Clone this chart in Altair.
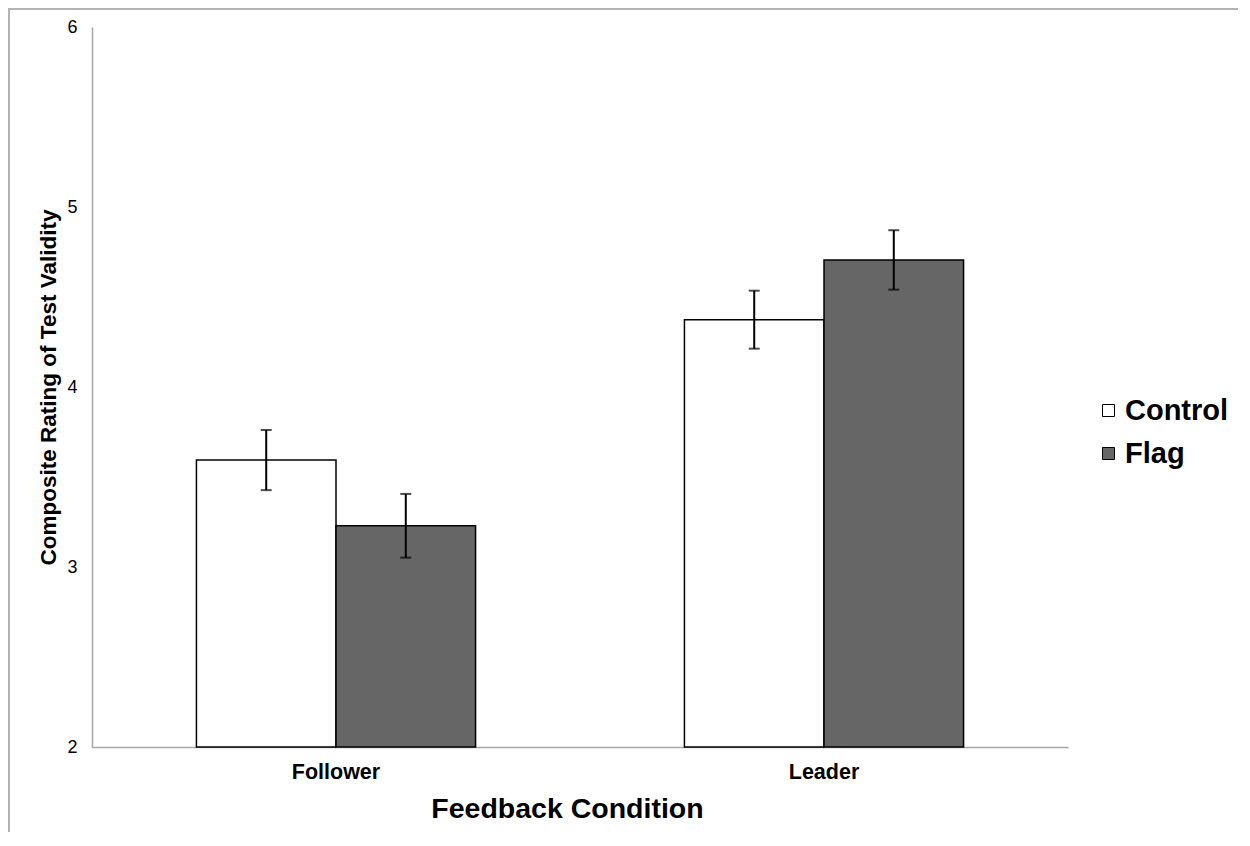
import altair as alt
import pandas as pd

groups = ["Follower", "Follower", "Leader", "Leader"]
conditions = ["Control", "Flag", "Control", "Flag"]
means = [3.594, 3.229, 4.374, 4.706]
errors = [0.167, 0.177, 0.161, 0.165]

df = pd.DataFrame({"group": groups, "condition": conditions, "mean": means, "err": errors})
df["lo"] = df["mean"] - df["err"]
df["hi"] = df["mean"] + df["err"]

FONT = "Liberation Sans"

x = alt.X("group:N", title="Feedback Condition",
          scale=alt.Scale(paddingInner=0.428, paddingOuter=0.214),
          axis=alt.Axis(labelAngle=0, ticks=False, labelFontSize=21.5, labelFontWeight="bold",
                        labelPadding=14, titleFontSize=28.5, titleFontWeight="bold",
                        titlePadding=12, titleX=475, domainColor="#a6a6a6", domainWidth=1.5,
                        labelColor="black", titleColor="black"))
xo = alt.XOffset("condition:N", scale=alt.Scale(paddingInner=0, paddingOuter=0))
yscale = alt.Scale(domain=[2, 6], zero=False, nice=False)

bars = alt.Chart(df).mark_bar(stroke="black", strokeWidth=1.5).encode(
    x=x,
    xOffset=xo,
    y=alt.Y("mean:Q", scale=yscale, title="Composite Rating of Test Validity",
            axis=alt.Axis(values=[2, 3, 4, 5, 6], format="d", ticks=False, grid=False,
                          labelFontSize=18, labelPadding=15, titleFontSize=22.5,
                          titleFontWeight="bold", titlePadding=6, domainColor="#a6a6a6",
                          domainWidth=1.5, labelColor="black", titleColor="black")),
    y2=alt.Y2(datum=2),
    fill=alt.Fill("condition:N",
                  scale=alt.Scale(domain=["Control", "Flag"], range=["#ffffff", "#666666"]),
                  legend=alt.Legend(title=None, orient="none", legendX=1002, legendY=369,
                                    symbolType="square", symbolSize=144,
                                    symbolStrokeColor="black", symbolStrokeWidth=1,
                                    labelFontSize=29, labelFontWeight="bold", labelFont=FONT,
                                    labelColor="black", rowPadding=13, labelOffset=2)),
)

rules = alt.Chart(df).mark_rule(color="black", strokeWidth=2).encode(
    x=alt.X("group:N"), xOffset=alt.XOffset("condition:N"),
    y=alt.Y("lo:Q", scale=yscale), y2="hi:Q")

caps_lo = alt.Chart(df).mark_tick(color="black", thickness=2, size=11).encode(
    x=alt.X("group:N"), xOffset=alt.XOffset("condition:N"),
    y=alt.Y("lo:Q", scale=yscale))
caps_hi = alt.Chart(df).mark_tick(color="black", thickness=2, size=11).encode(
    x=alt.X("group:N"), xOffset=alt.XOffset("condition:N"),
    y=alt.Y("hi:Q", scale=yscale))

frame_left = alt.Chart(df).mark_rule(color="#b3b3b3", strokeWidth=2).encode(
    x=alt.value(-83), y=alt.value(-19), y2=alt.value(810))
frame_top = alt.Chart(df).mark_rule(color="#b3b3b3", strokeWidth=2).encode(
    x=alt.value(-84), x2=alt.value(1150), y=alt.value(-18))

chart = alt.layer(bars, rules, caps_lo, caps_hi, frame_left, frame_top).properties(
    width=976, height=720,
    autosize=alt.AutoSizeParams(type="none"),
    padding={"left": 84, "top": 19, "right": 170, "bottom": 85},
).configure(font=FONT).configure_view(stroke=None)

chart.save("out.html", embed_options={"renderer": "svg", "actions": False})
